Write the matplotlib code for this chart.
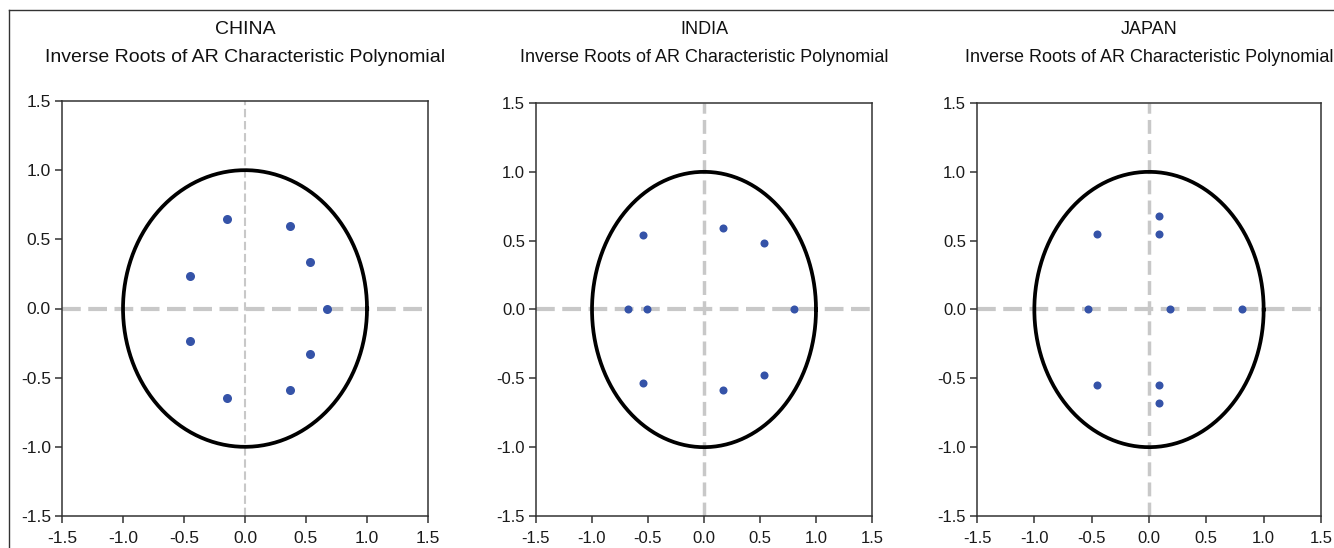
# AR inverse roots - China, India, Japan
import numpy as np
import matplotlib.pyplot as plt
from matplotlib.lines import Line2D

plt.rcParams['font.family'] = ['Liberation Sans', 'DejaVu Sans']

china_re = [-0.145, -0.145, 0.37, 0.37, 0.53, 0.53, 0.67, -0.45, -0.45]
china_im = [0.65, -0.645, 0.595, -0.59, 0.333, -0.33, 0.0, 0.234, -0.232]

india_re = [0.17, 0.17, 0.535, 0.535, -0.545, -0.545, -0.68, -0.51, 0.80]
india_im = [0.59, -0.585, 0.485, -0.478, 0.54, -0.535, 0.0, 0.0, 0.0]

japan_re = [0.085, 0.085, 0.09, 0.09, -0.455, -0.455, -0.53, 0.185, 0.81]
japan_im = [0.68, -0.68, 0.548, -0.545, 0.548, -0.545, 0.0, 0.0, 0.0]

countries = ['CHINA', 'INDIA', 'JAPAN']
ticks = [-1.5, -1.0, -0.5, 0.0, 0.5, 1.0, 1.5]
tick_labels = ['-1.5', '-1.0', '-0.5', '0.0', '0.5', '1.0', '1.5']

W, H = 1334, 548
fig = plt.figure(figsize=(W / 100, H / 100), dpi=100)

# axes boxes in pixels: left, right, top, bottom
boxes = [(62, 428, 101, 516), (536, 872, 103, 516), (977, 1321, 103, 516)]
data = [(china_re, china_im), (india_re, india_im), (japan_re, japan_im)]
title_size = [14, 13, 13]
tick_size = [12.5, 12, 12]
vline_w = [1.5, 2.5, 2.5]

theta = np.linspace(0, 2 * np.pi, 400)

for i in range(3):
    l, r, t, b = boxes[i]
    ax = fig.add_axes([l / W, 1 - b / H, (r - l) / W, (b - t) / H])
    ax.axhline(0, color='#c8c8c8', lw=3, ls=(0, (4.5, 1.8)), zorder=1)
    ax.axvline(0, color='#c8c8c8', lw=vline_w[i], ls=(0, (4, 1.8)), zorder=1)
    ax.plot(np.cos(theta), np.sin(theta), color='black', lw=2.7, zorder=2)
    re, im = data[i]
    ax.plot(re, im, 'o', color='#3553a8', ms=6.5 if i == 0 else 5.8, mec='none', zorder=3)
    ax.set_xlim(-1.5, 1.5)
    ax.set_ylim(-1.5, 1.5)
    ax.set_xticks(ticks)
    ax.set_yticks(ticks)
    ax.set_xticklabels(tick_labels)
    ax.set_yticklabels(tick_labels)
    ax.tick_params(direction='out', length=5, width=1.1, color='#333333',
                   labelsize=tick_size[i], labelcolor='#1a1a1a')
    ax.tick_params(axis='x', pad=6)
    ax.tick_params(axis='y', pad=3)
    for s in ax.spines.values():
        s.set_color('#333333')
        s.set_linewidth(1.1)
    cx = (l + r) / 2 / W
    fig.text(cx, 1 - 30 / H, countries[i], ha='center', va='center',
             fontsize=title_size[i], color='#111111')
    fig.text(cx, 1 - 57 / H, 'Inverse Roots of AR Characteristic Polynomial',
             ha='center', va='center', fontsize=title_size[i], color='#111111')

# outer frame (top and left edges visible)
fig.add_artist(Line2D([9 / W, 9 / W], [0, 1 - 10 / H], color='#333333', lw=1))
fig.add_artist(Line2D([9 / W, 1], [1 - 10 / H, 1 - 10 / H], color='#333333', lw=1))

fig.savefig('out.png', dpi=100)
